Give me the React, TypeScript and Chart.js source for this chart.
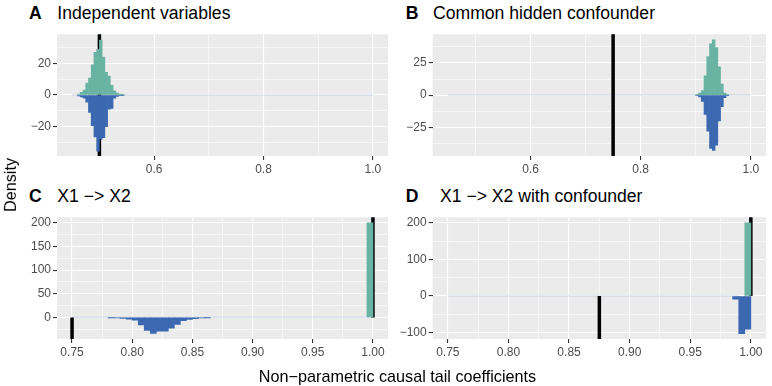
import React, { useEffect, useRef } from "react";
import { Chart, registerables } from "chart.js";

Chart.register(...registerables);
Chart.defaults.font.family = "'Liberation Sans', Arial, Helvetica, sans-serif";

// ---------------- data ----------------
const BIN_WIDTH = 0.005;

// Panel A: Independent variables (bin lower edges, densities)
const aEdges = [0.46, 0.465, 0.47, 0.475, 0.48, 0.485, 0.49, 0.495, 0.5, 0.505, 0.51, 0.515, 0.52, 0.525, 0.53, 0.535, 0.54];
const aPos = [0.5, 1.6, 3, 7.5, 10.6, 19, 27, 28.6, 34.7, 24, 14.3, 12, 6, 2.6, 1.2, 0.5, 0.2];
const aNeg = [-0.6, -1.2, -2, -4.5, -11, -19.5, -26.5, -35.5, -28, -27, -20, -9, -8.5, -2, -1, -0.4, -0.2];

// Panel B: Common hidden confounder
const bEdges = [0.9, 0.905, 0.91, 0.915, 0.92, 0.925, 0.93, 0.935, 0.94, 0.945, 0.95, 0.955];
const bPos = [0.3, 1.5, 3.5, 15, 30, 40, 43, 37, 22, 8.5, 1.5, 0.3];
const bNeg = [-0.5, -1.5, -5, -15, -28, -41.5, -43, -39, -20, -9, -2, -0.3];

// Panel C: X1 -> X2
const cPosEdges = [0.995];
const cPos = [200];
const cNegEdges = [0.78, 0.785, 0.79, 0.795, 0.8, 0.805, 0.81, 0.815, 0.82, 0.825, 0.83, 0.835, 0.84, 0.845, 0.85, 0.855, 0.86];
const cNeg = [-0.5, -1, -2, -4, -6, -16, -27.5, -34, -29, -29, -23, -15, -7, -4.5, -2.5, -1, -0.4];

// Panel D: X1 -> X2 with confounder
const dPosEdges = [0.995];
const dPos = [200];
const dNegEdges = [0.985, 0.99, 0.995];
const dNeg = [-9, -103, -91];

// reference coefficient lines (upper half / lower half)
const upperLines = [0.5, 0.75, 1.0, 1.0];
const lowerLines = [0.5, 0.75, 0.75, 0.875];
// range covered by the (near-zero) histogram tails
const baseFrom = [0.45, 0.45, 0.75, 0.75];
const baseTo = [1.0, 1.0, 1.0, 0.99];

// axis ranges
const xRangeAB = [0.4225, 1.0275];
const xRangeCD = [0.7375, 1.0125];
const yRangeA = [-38.6, 38.4];
const yRangeB = [-47.4, 47.4];
const yRangeC = [-45.7, 211.7];
const yRangeD = [-117.8, 215.6];

// ticks
const xMajorAB = [0.6, 0.8, 1.0];
const xLabelsAB = ["0.6", "0.8", "1.0"];
const xMinorAB = [0.5, 0.7, 0.9];
const xMajorCD = [0.75, 0.8, 0.85, 0.9, 0.95, 1.0];
const xLabelsCD = ["0.75", "0.80", "0.85", "0.90", "0.95", "1.00"];
const xMinorCD = [0.775, 0.825, 0.875, 0.925, 0.975];
const yMajorA = [-20, 0, 20];
const yLabelsA = ["\u221220", "0", "20"];
const yMinorA = [-30, -10, 10, 30];
const yMajorB = [-25, 0, 25];
const yLabelsB = ["\u221225", "0", "25"];
const yMinorB = [-37.5, -12.5, 12.5, 37.5];
const yMajorC = [0, 50, 100, 150, 200];
const yLabelsC = ["0", "50", "100", "150", "200"];
const yMinorC = [-25, 25, 75, 125, 175];
const yMajorD = [-100, 0, 100, 200];
const yLabelsD = ["\u2212100", "0", "100", "200"];
const yMinorD = [-50, 50, 150];

const letters = ["A", "B", "C", "D"];
const titles = ["Independent variables", "Common hidden confounder", "X1 \u2212> X2", "X1 \u2212> X2 with confounder"];
const xAxisTitle = "Non\u2212parametric causal tail coefficients";
const yAxisTitle = "Density";

// ---------------- styles ----------------
const GREEN = "#69b3a2";
const BLUE = "#3b68b0";
const FAINT = "rgba(59,104,176,0.18)";
const PANEL_BG = "#EBEBEB";

type Spec = {
  posEdges: number[]; pos: number[]; negEdges: number[]; neg: number[];
  upper: number; lower: number; baseFrom: number; baseTo: number;
  xRange: number[]; yRange: number[];
  xMajor: number[]; xLabels: string[]; xMinor: number[];
  yMajor: number[]; yLabels: string[]; yMinor: number[];
};
type Layout = { left: number; top: number; width: number; height: number; padTop: number; padRight: number; yAxisW: number; xAxisH: number };

const specs: Spec[] = [
  { posEdges: aEdges, pos: aPos, negEdges: aEdges, neg: aNeg, upper: upperLines[0], lower: lowerLines[0], baseFrom: baseFrom[0], baseTo: baseTo[0], xRange: xRangeAB, yRange: yRangeA, xMajor: xMajorAB, xLabels: xLabelsAB, xMinor: xMinorAB, yMajor: yMajorA, yLabels: yLabelsA, yMinor: yMinorA },
  { posEdges: bEdges, pos: bPos, negEdges: bEdges, neg: bNeg, upper: upperLines[1], lower: lowerLines[1], baseFrom: baseFrom[1], baseTo: baseTo[1], xRange: xRangeAB, yRange: yRangeB, xMajor: xMajorAB, xLabels: xLabelsAB, xMinor: xMinorAB, yMajor: yMajorB, yLabels: yLabelsB, yMinor: yMinorB },
  { posEdges: cPosEdges, pos: cPos, negEdges: cNegEdges, neg: cNeg, upper: upperLines[2], lower: lowerLines[2], baseFrom: baseFrom[2], baseTo: baseTo[2], xRange: xRangeCD, yRange: yRangeC, xMajor: xMajorCD, xLabels: xLabelsCD, xMinor: xMinorCD, yMajor: yMajorC, yLabels: yLabelsC, yMinor: yMinorC },
  { posEdges: dPosEdges, pos: dPos, negEdges: dNegEdges, neg: dNeg, upper: upperLines[3], lower: lowerLines[3], baseFrom: baseFrom[3], baseTo: baseTo[3], xRange: xRangeCD, yRange: yRangeD, xMajor: xMajorCD, xLabels: xLabelsCD, xMinor: xMinorCD, yMajor: yMajorD, yLabels: yLabelsD, yMinor: yMinorD },
];

const layouts: Layout[] = [
  { left: 0, top: 25, width: 392, height: 155, padTop: 5, padRight: 4, yAxisW: 57, xAxisH: 24 },
  { left: 390, top: 25, width: 382, height: 155, padTop: 5, padRight: 6, yAxisW: 42.7, xAxisH: 24 },
  { left: 0, top: 208, width: 392, height: 160, padTop: 5.3, padRight: 4, yAxisW: 57, xAxisH: 29 },
  { left: 390, top: 208, width: 382, height: 160, padTop: 5.3, padRight: 6, yAxisW: 42.7, xAxisH: 29 },
];

const titlePos = [
  { letterX: 29, textX: 57.3, top: 5 },
  { letterX: 405.7, textX: 433, top: 5 },
  { letterX: 29, textX: 57.3, top: 187.7 },
  { letterX: 405.7, textX: 440, top: 187.7 },
];

const near = (a: number, b: number) => Math.abs(a - b) < 1e-9;

const panelBg = {
  id: "panelBg",
  beforeDraw(chart: any) {
    const { ctx, chartArea } = chart;
    ctx.save();
    ctx.fillStyle = PANEL_BG;
    ctx.fillRect(chartArea.left, chartArea.top, chartArea.right - chartArea.left, chartArea.bottom - chartArea.top);
    ctx.restore();
  },
};

function axisOpts(range: number[], major: number[], labels: string[], minor: number[], isX: boolean, size: number) {
  const all = [...major, ...minor].filter((v) => v >= range[0] && v <= range[1]).sort((a, b) => a - b);
  const isMajor = (v: number) => major.some((m) => near(m, v));
  return {
    type: "linear",
    min: range[0],
    max: range[1],
    offset: false,
    afterBuildTicks: (s: any) => {
      s.ticks = all.map((v) => ({ value: v }));
    },
    afterFit: (s: any) => {
      if (isX) s.height = size;
      else s.width = size;
    },
    ticks: {
      autoSkip: false,
      maxRotation: 0,
      minRotation: 0,
      color: "#4D4D4D",
      font: { size: 12 },
      padding: 2,
      callback: (v: number) => {
        const i = major.findIndex((m) => near(m, v));
        return i >= 0 ? labels[i] : "";
      },
    },
    grid: {
      offset: false,
      color: "#FFFFFF",
      lineWidth: (c: any) => (c.tick && isMajor(c.tick.value) ? 1.1 : 0.55),
      tickColor: (c: any) => (c.tick && isMajor(c.tick.value) ? "#333333" : "rgba(0,0,0,0)"),
      tickLength: 4,
      tickWidth: 1.1,
      drawTicks: true,
    },
    border: { display: false },
  };
}

function Panel({ spec, layout }: { spec: Spec; layout: Layout }) {
  const ref = useRef<HTMLCanvasElement>(null);
  useEffect(() => {
    if (!ref.current) return;
    const barCommon = { type: "bar", grouped: false, barPercentage: 1, categoryPercentage: 1, borderWidth: 0, order: 1 };
    const lineCommon = { type: "line", pointRadius: 0, borderCapStyle: "butt", fill: false };
    const chart = new Chart(ref.current, {
      type: "bar",
      data: {
        datasets: [
          { ...barCommon, data: spec.posEdges.map((e, i) => ({ x: e + BIN_WIDTH / 2, y: spec.pos[i] })), backgroundColor: GREEN },
          { ...barCommon, data: spec.negEdges.map((e, i) => ({ x: e + BIN_WIDTH / 2, y: spec.neg[i] })), backgroundColor: BLUE },
          { ...lineCommon, data: [{ x: spec.upper, y: 0 }, { x: spec.upper, y: 10000 }], borderColor: "#000000", borderWidth: 3.5, order: 2 },
          { ...lineCommon, data: [{ x: spec.lower, y: 0 }, { x: spec.lower, y: -10000 }], borderColor: "#000000", borderWidth: 3.5, order: 2 },
          { ...lineCommon, data: [{ x: spec.baseFrom, y: 0 }, { x: spec.baseTo, y: 0 }], borderColor: FAINT, borderWidth: 1.3, order: 3 },
        ] as any,
      },
      options: {
        animation: false,
        responsive: false,
        maintainAspectRatio: false,
        devicePixelRatio: 1,
        layout: { padding: { left: 0, right: layout.padRight, top: layout.padTop, bottom: 0 } },
        plugins: { legend: { display: false }, tooltip: { enabled: false }, title: { display: false } },
        scales: {
          x: axisOpts(spec.xRange, spec.xMajor, spec.xLabels, spec.xMinor, true, layout.xAxisH),
          y: axisOpts(spec.yRange, spec.yMajor, spec.yLabels, spec.yMinor, false, layout.yAxisW),
        } as any,
      },
      plugins: [panelBg],
    } as any);
    return () => chart.destroy();
  }, []);
  return (
    <canvas
      ref={ref}
      width={layout.width}
      height={layout.height}
      style={{ position: "absolute", left: layout.left, top: layout.top, width: layout.width, height: layout.height }}
    />
  );
}

export default function App() {
  const font = "'Liberation Sans', Arial, Helvetica, sans-serif";
  return (
    <div style={{ position: "absolute", left: 0, top: 0, width: 772, height: 386, background: "#FFFFFF", overflow: "hidden", fontFamily: font }}>
      {specs.map((s, i) => (
        <Panel key={i} spec={s} layout={layouts[i]} />
      ))}
      {titles.map((t, i) => (
        <React.Fragment key={"t" + i}>
          <div style={{ position: "absolute", left: titlePos[i].letterX, top: titlePos[i].top, fontSize: 17.6, lineHeight: 1, fontWeight: "bold", color: "#000", whiteSpace: "nowrap" }}>
            {letters[i]}
          </div>
          <div style={{ position: "absolute", left: titlePos[i].textX, top: titlePos[i].top, fontSize: 17.6, lineHeight: 1, color: "#000", whiteSpace: "nowrap" }}>
            {t}
          </div>
        </React.Fragment>
      ))}
      <div style={{ position: "absolute", left: 397.5, top: 368.4, fontSize: 16.2, lineHeight: 1, color: "#000", whiteSpace: "nowrap", transform: "translateX(-50%)" }}>
        {xAxisTitle}
      </div>
      <div style={{ position: "absolute", left: 10, top: 184.5, fontSize: 16.2, lineHeight: 1, color: "#000", whiteSpace: "nowrap", transform: "translate(-50%, -50%) rotate(-90deg)" }}>
        {yAxisTitle}
      </div>
    </div>
  );
}
